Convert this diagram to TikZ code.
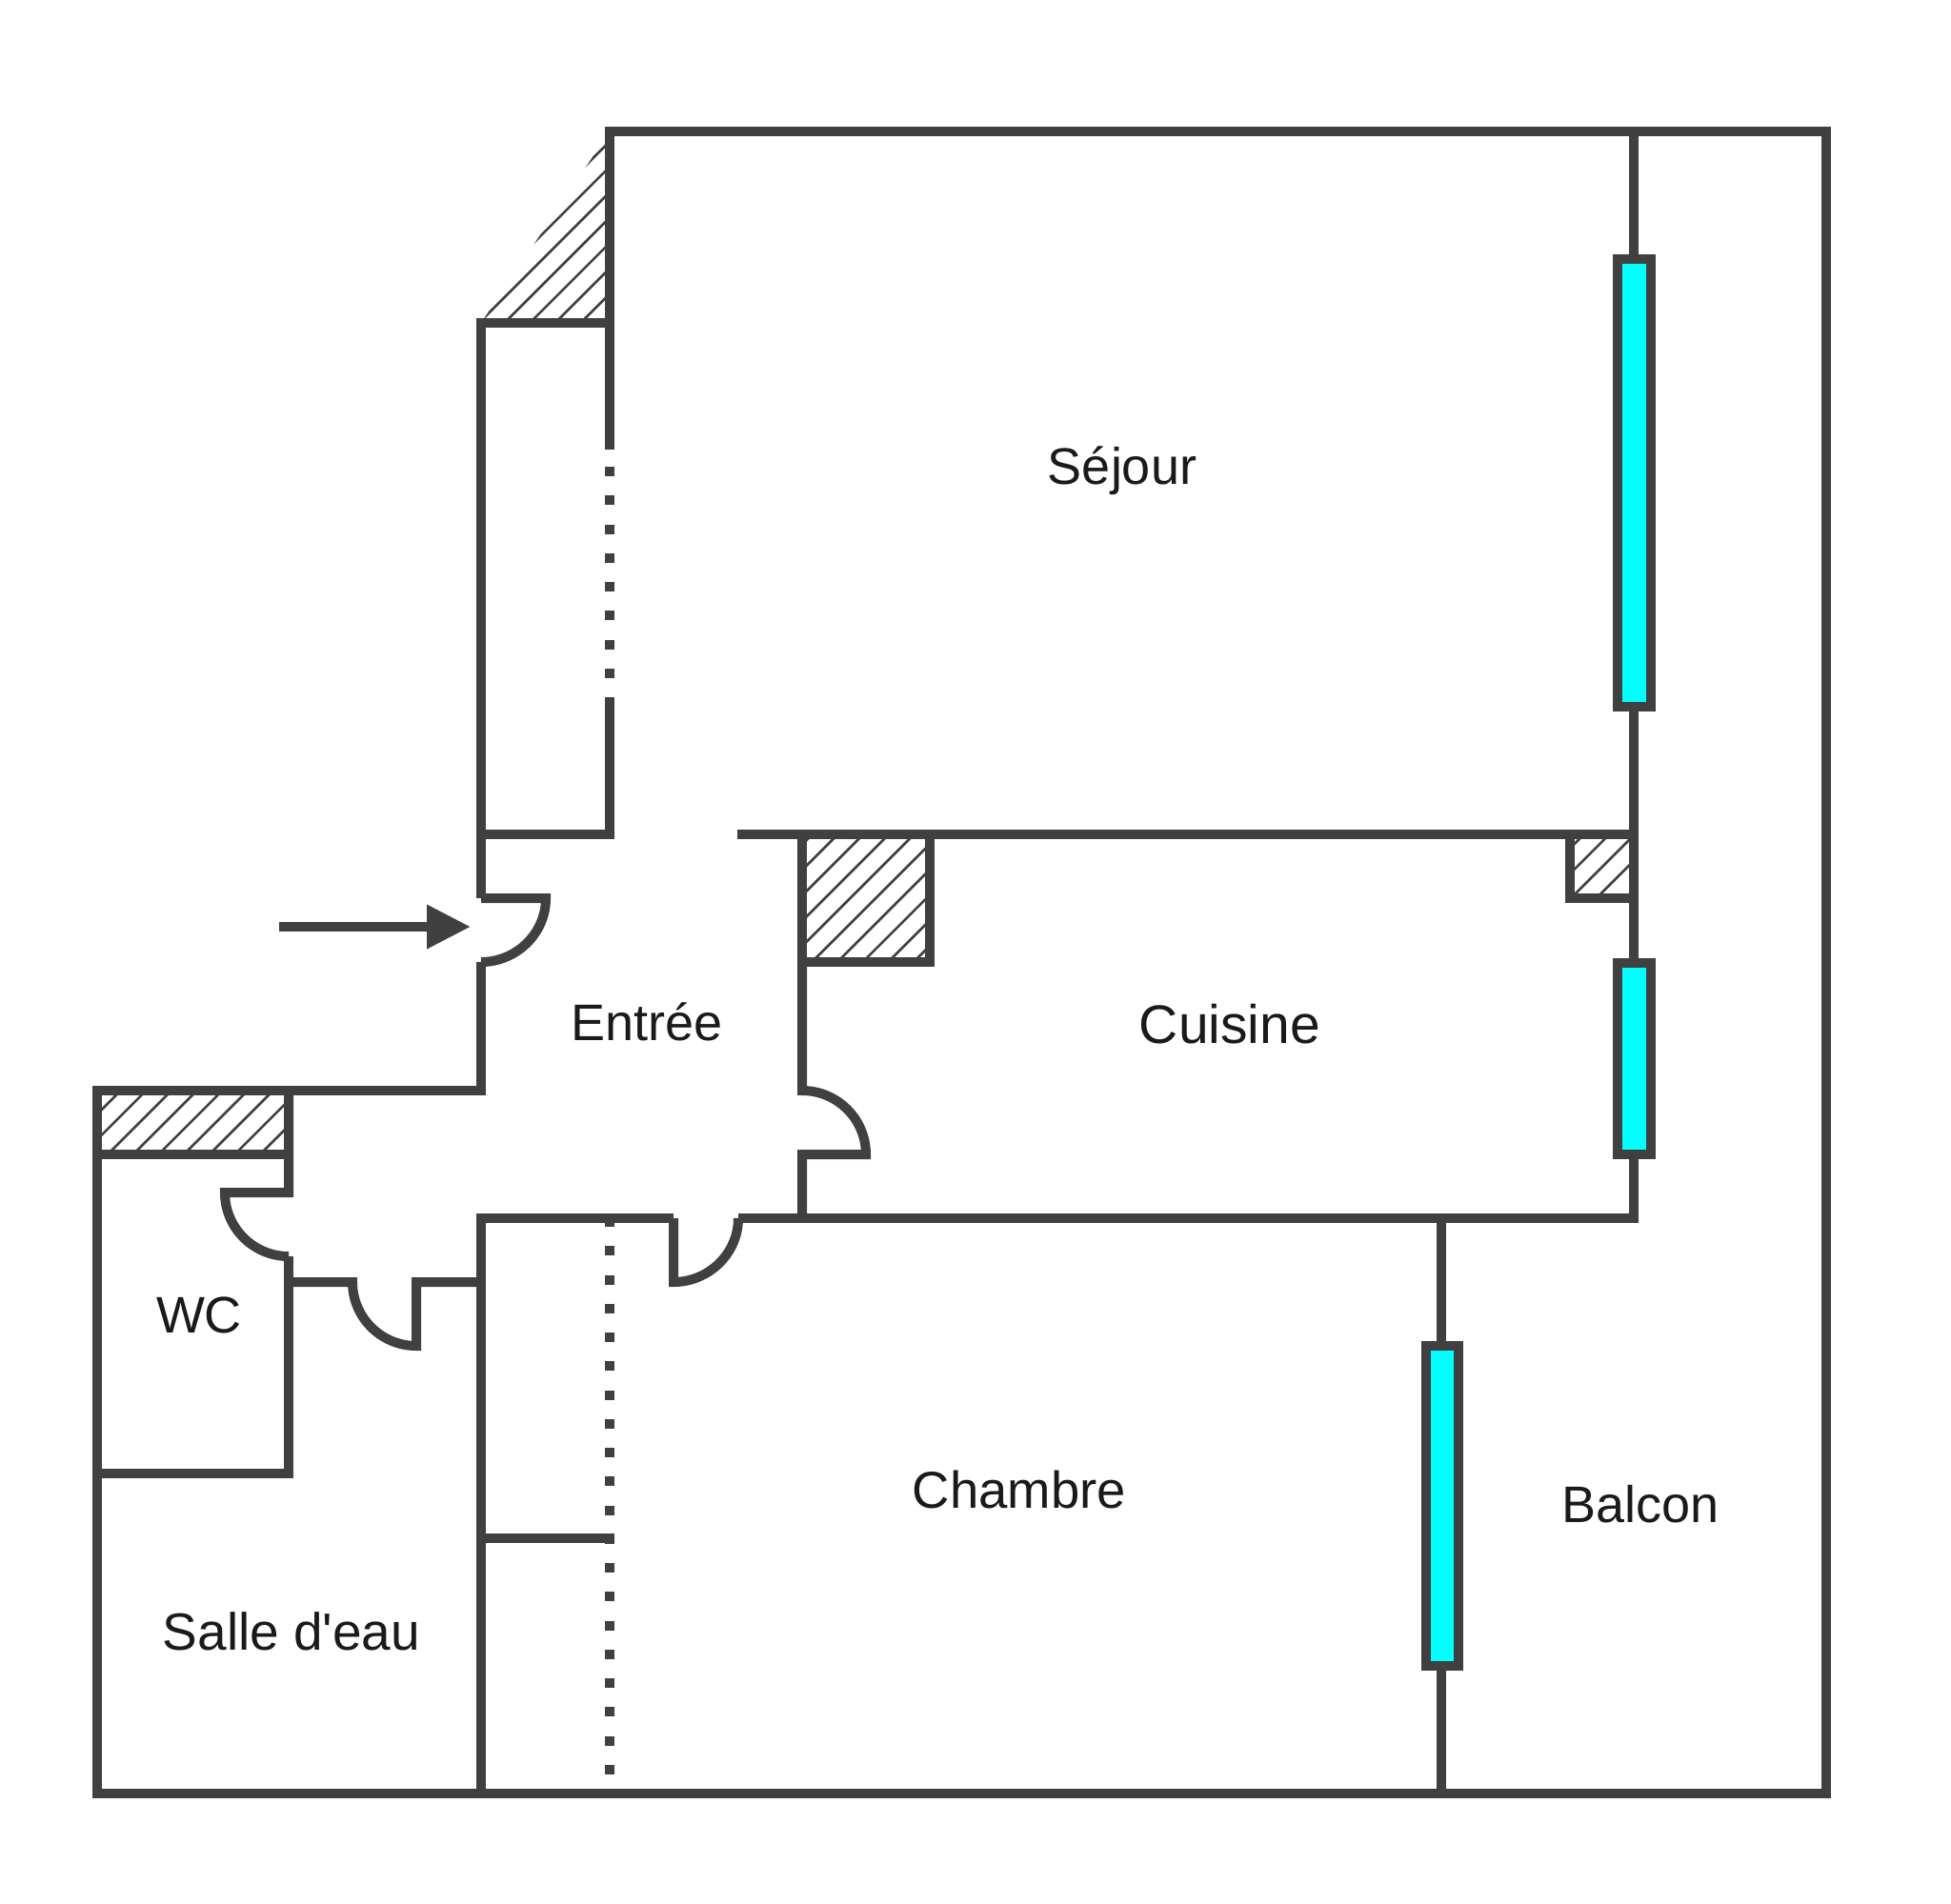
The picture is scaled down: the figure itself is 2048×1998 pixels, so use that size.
\documentclass[tikz,border=0pt]{standalone}
\usepackage{fontspec}
\setmainfont{Liberation Sans}[Ligatures=TeXOff]
\usetikzlibrary{arrows.meta}
\definecolor{wall}{HTML}{404040}
\definecolor{glass}{HTML}{00FFFF}
\definecolor{ink}{HTML}{1A1A1A}
\tikzset{
  wallline/.style={draw=wall,line width=10pt,miter limit=10},
  dotline/.style={draw=wall,line width=10pt,dash pattern=on 10pt off 20.25pt},
  hatchline/.style={draw=wall,line width=2.6pt},
  windowbox/.style={draw=wall,fill=glass,line width=10pt},
  room/.style={anchor=base,text=ink,inner sep=0pt,font=\fontsize{#1}{#1}\selectfont},
  room/.default=54pt
}
% #1 clip path, #2 phase, #3 first index, #4 last index, #5 top y of the area
\newcommand{\hatchlines}[5]{%
  \begin{scope}
    \clip #1;
    \foreach \k in {#3,...,#4}{
      \pgfmathsetmacro{\sv}{#2+26.67*\k}
      \draw[hatchline] ({\sv-#5},#5) -- ({\sv-#5-300},#5+300);
    }
  \end{scope}}
\begin{document}
\begin{tikzpicture}[x=1pt,y=-1pt]
\useasboundingbox (0,0) rectangle (2048,1998);
\fill[white] (0,0) rectangle (2048,1998);

% hatched areas
\hatchlines{(505,339)--(640,339)--(640,138)--cycle}{15}{28}{37}{138}
\hatchlines{(102,1145) rectangle (303,1212)}{18.2}{45}{56}{1145}
\hatchlines{(842,876) rectangle (976,1010)}{22}{64}{74}{876}
\hatchlines{(1648,876) rectangle (1715,943)}{5}{92}{98}{876}

% outer walls
\path[wallline] (640,339) -- (640,138) -- (1917,138) -- (1917,1883) -- (102,1883) -- (102,1145) -- (505,1145) -- (505,1010);
\path[wallline] (505,943) -- (505,339) -- (640,339);
\path[wallline] (640,472) -- (640,339);
\path[wallline] (640,732) -- (640,876) -- (505,876);
\path[dotline] (640,490) -- (640,720);

% hatched box walls
\path[wallline] (842,876) -- (842,1010) -- (976,1010) -- (976,876);
\path[wallline] (1648,876) -- (1648,943) -- (1715,943);
\path[wallline] (102,1212) -- (303,1212);

% long walls
\path[wallline] (774,876) -- (1715,876);
\path[wallline] (1715,138) -- (1715,1279) -- (775,1279);
\path[wallline] (1513,1279) -- (1513,1883);
\path[wallline] (505,1883) -- (505,1279) -- (707,1279);
\path[wallline] (505,1615) -- (645,1615);
\path[dotline] (640,1278) -- (640,1865);
\path[wallline] (102,1547) -- (303,1547) -- (303,1319);

% doors
\path[wallline] (505,943) -- (573,943) .. controls (573,980) and (542,1010) .. (505,1010);
\path[wallline] (842,1010) -- (842,1145) .. controls (879,1145) and (909,1175) .. (909,1212) -- (842,1212) -- (842,1279);
\path[wallline] (303,1145) -- (303,1252) -- (236,1252) .. controls (236,1289) and (266,1319) .. (303,1319);
\path[wallline] (303,1346) -- (370,1346) .. controls (370,1383) and (400,1413) .. (437,1413) -- (437,1346) -- (505,1346);
\path[wallline] (707,1279) -- (707,1346) .. controls (744,1346) and (775,1316) .. (775,1279);

% windows
\path[windowbox] (1698,272) rectangle (1733,742);
\path[windowbox] (1698,1011) rectangle (1733,1212);
\path[windowbox] (1496.5,1413) rectangle (1530.5,1749);

% entry arrow
\coordinate (arrowstart) at (293,973);
\coordinate (arrowend) at (494,973);
\draw[draw=wall,fill=wall,line width=10pt,-{Triangle[length=46pt,width=44pt]}] (arrowstart) -- (arrowend);

% labels
\node[room=54pt] (sejour) at (1178,508) {Séjour};
\node[room=54pt] (entree) at (679,1092) {Entrée};
\node[room=57pt] (cuisine) at (1291,1095) {Cuisine};
\node[room=54.5pt] (chambre) at (1070,1583) {Chambre};
\node[room=54pt] (balcon) at (1722,1598) {Balcon};
\node[room=55pt] (salle) at (306,1732) {Salle d'eau};
\node[room=54pt] (wc) at (209,1399) {WC};
\end{tikzpicture}
\end{document}
